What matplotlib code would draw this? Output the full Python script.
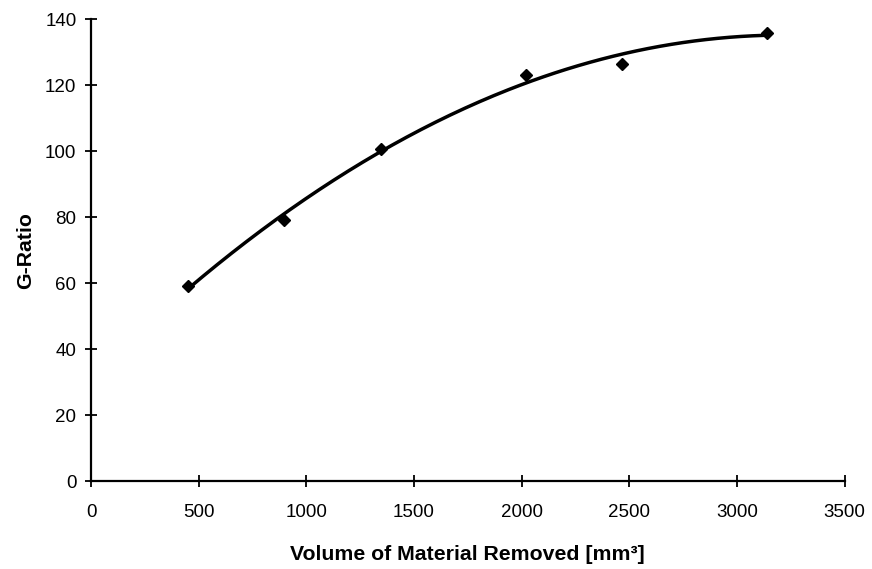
import numpy as np
import matplotlib
matplotlib.use("Agg")
import matplotlib.pyplot as plt

# Measured points (volume removed vs G-ratio)
volume = [452, 896, 1345, 2019, 2467, 3141]
g_ratio = [59.0, 79.2, 100.6, 123.1, 126.5, 135.8]

x_ticks = [0, 500, 1000, 1500, 2000, 2500, 3000, 3500]
y_ticks = [0, 20, 40, 60, 80, 100, 120, 140]

plt.rcParams['font.family'] = ['Liberation Sans', 'DejaVu Sans']

fig = plt.figure(figsize=(8.72, 5.69), dpi=100)
ax = fig.add_axes([0.1044, 0.1541, 0.8641, 0.8125])

# 2nd order polynomial trendline over the data range
coef = np.polyfit(volume, g_ratio, 2)
xs = np.linspace(min(volume), max(volume), 200)
ax.plot(xs, np.polyval(coef, xs), color='black', linewidth=2.5, solid_capstyle='round')
ax.plot(volume, g_ratio, linestyle='none', marker='D', markersize=6.5, color='black')

ax.set_xlim(0, 3500)
ax.set_ylim(0, 140)
ax.set_xticks(x_ticks)
ax.set_yticks(y_ticks)
ax.tick_params(direction='inout', length=9, width=1.3, labelsize=13.5, pad=6)
ax.tick_params(axis='x', pad=12)

for side in ['top', 'right']:
    ax.spines[side].set_visible(False)
for side in ['left', 'bottom']:
    ax.spines[side].set_linewidth(1.6)

ax.set_xlabel('Volume of Material Removed [mm³]', fontsize=15.3,
              fontweight='bold', labelpad=17)
ax.set_ylabel('G-Ratio', fontsize=15.3, fontweight='bold', labelpad=7)

fig.savefig('out.png', dpi=100)
